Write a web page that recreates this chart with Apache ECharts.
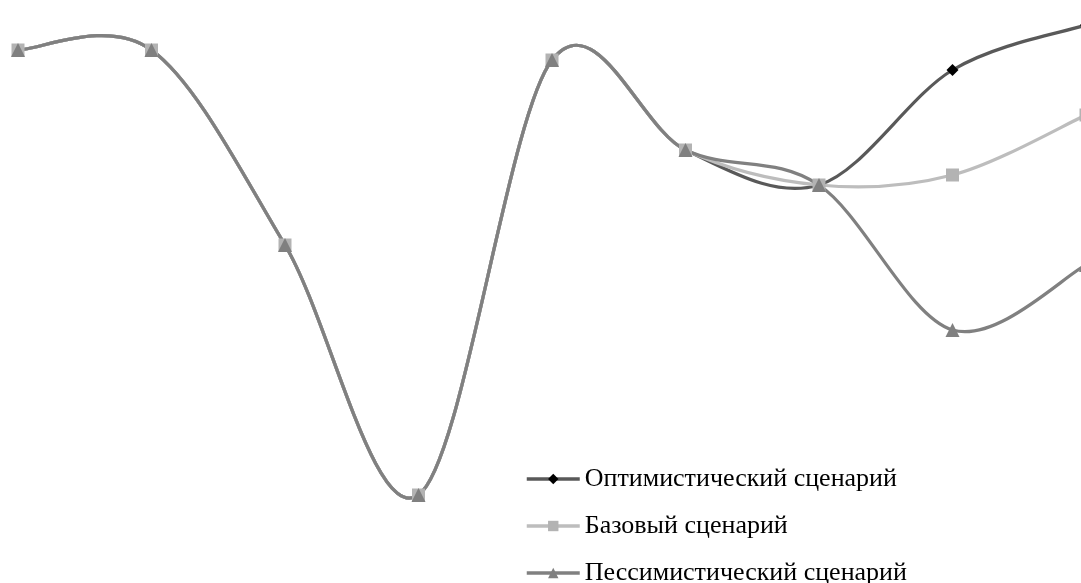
<!DOCTYPE html>
<html>
<head>
<meta charset="utf-8">
<script src="https://cdn.jsdelivr.net/npm/echarts@6/dist/echarts.min.js"></script>
<style>
  html, body { margin: 0; padding: 0; background: #fff; }
  #chart { width: 1081px; height: 583px; }
</style>
</head>
<body>
<div id="chart"></div>
<script>
// Periods along the horizontal axis (axis itself is hidden)
const periods = ['1', '2', '3', '4', '5', '6', '7', '8', '9'];

// Scenario values
const optimistic  = [5.0, 5.0, 1.1, -3.9, 4.8, 3.0, 2.3, 4.6, 5.5];
const baseline    = [5.0, 5.0, 1.1, -3.9, 4.8, 3.0, 2.3, 2.5, 3.7];
const pessimistic = [5.0, 5.0, 1.1, -3.9, 4.8, 3.0, 2.3, -0.6, 0.7];

const seriesNames = ['Оптимистический сценарий', 'Базовый сценарий', 'Пессимистический сценарий'];

const styles = [
  { line: '#595959', marker: '#000000', symbol: 'diamond',  size: 12, legendSize: 12 },
  { line: '#bdbdbd', marker: '#b3b3b3', symbol: 'rect',     size: 13, legendSize: 12 },
  { line: '#808080', marker: '#808080', symbol: 'triangle', size: 14, legendSize: 13 }
];
const allValues = [optimistic, baseline, pessimistic];

// Smooth curve through the points as cubic Bezier segments
// (tangent at each point = (next - previous) / 6, ends use the point itself)
function curveSeries(values, color) {
  return {
    type: 'custom',
    name: '_curve',
    silent: true,
    z: 2,
    clip: false,
    data: values.map((v, i) => [i, v]),
    encode: { x: 0, y: 1 },
    renderItem: function (params, api) {
      if (params.dataIndex !== 0) return null;
      const p = values.map((v, i) => api.coord([i, v]));
      const n = p.length;
      const children = [];
      for (let i = 0; i < n - 1; i++) {
        const prev = p[Math.max(i - 1, 0)];
        const a = p[i];
        const b = p[i + 1];
        const next = p[Math.min(i + 2, n - 1)];
        children.push({
          type: 'bezierCurve',
          shape: {
            x1: a[0], y1: a[1],
            x2: b[0], y2: b[1],
            cpx1: a[0] + (b[0] - prev[0]) / 6,
            cpy1: a[1] + (b[1] - prev[1]) / 6,
            cpx2: b[0] - (next[0] - a[0]) / 6,
            cpy2: b[1] - (next[1] - a[1]) / 6
          },
          style: { stroke: color, lineWidth: 3.2, fill: null, lineCap: 'round' }
        });
      }
      return { type: 'group', children: children };
    }
  };
}

function markerSeries(k) {
  return {
    name: seriesNames[k],
    type: 'line',
    data: allValues[k],
    z: 3,
    clip: false,
    symbol: styles[k].symbol,
    symbolSize: styles[k].size,
    showSymbol: true,
    lineStyle: { color: styles[k].line, width: 0, opacity: 0 },
    itemStyle: { color: styles[k].marker }
  };
}

const chart = echarts.init(document.getElementById('chart'));
chart.setOption({
  animation: false,
  backgroundColor: '#ffffff',
  grid: {
    left: 18, top: 0, width: 1068, bottom: 83,
    containLabel: false,
    outerBoundsMode: 'none'
  },
  xAxis: {
    type: 'category',
    data: periods,
    boundaryGap: false,
    show: false
  },
  yAxis: {
    type: 'value',
    min: -4,
    max: 6,
    show: false
  },
  legend: {
    orient: 'vertical',
    left: 520,
    top: 461,
    height: 200,
    itemWidth: 53,
    itemHeight: 13,
    itemGap: 21,
    textStyle: { fontFamily: 'Liberation Serif', fontSize: 26, color: '#000' },
    data: seriesNames.map((name, k) => ({
      name: name,
      lineStyle: { color: styles[k].line, width: 3.5, opacity: 1 },
      itemStyle: { color: styles[k].marker },
      symbolSize: styles[k].legendSize
    }))
  },
  series: [
    markerSeries(0),
    markerSeries(1),
    markerSeries(2),
    curveSeries(optimistic, styles[0].line),
    curveSeries(baseline, styles[1].line),
    curveSeries(pessimistic, styles[2].line)
  ]
});
</script>
</body>
</html>
